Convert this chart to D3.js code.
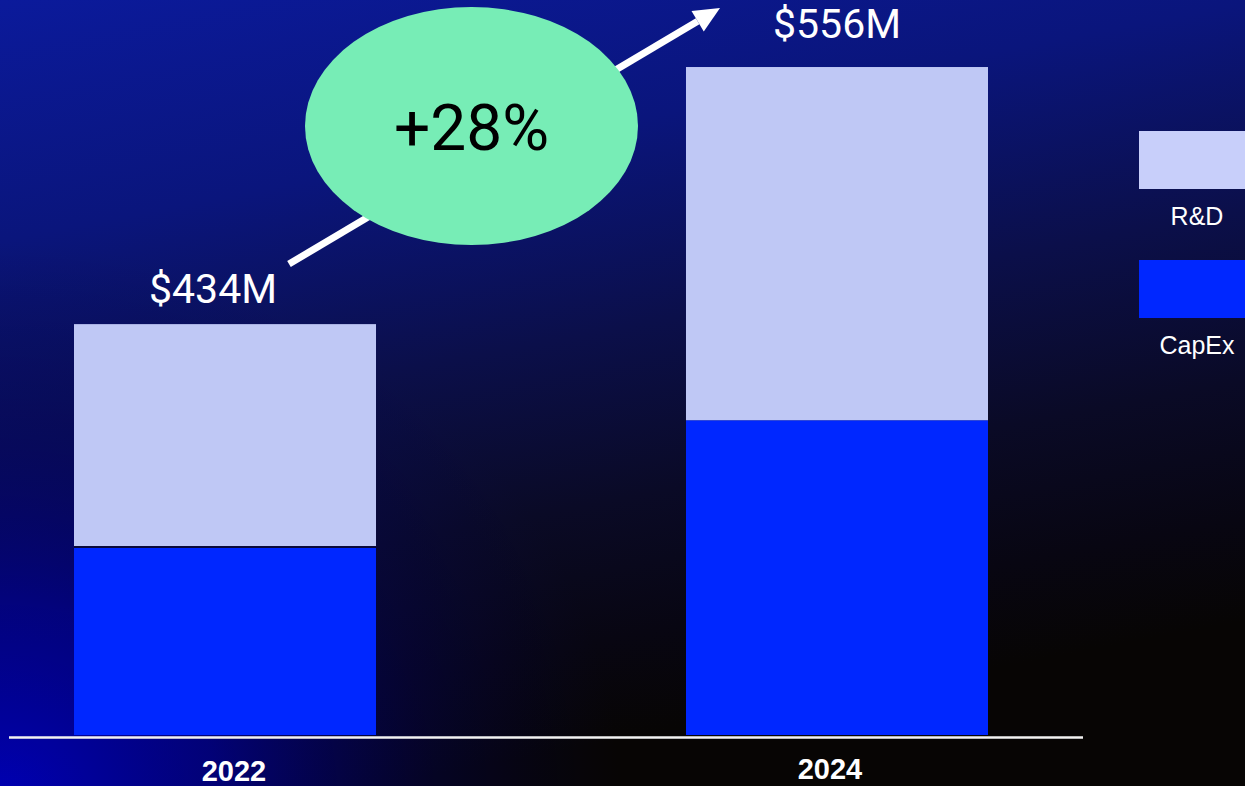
<!DOCTYPE html>
<html>
<head>
<meta charset="utf-8">
<script src="https://cdn.jsdelivr.net/npm/d3@7"></script>
<style>
  html, body { margin: 0; padding: 0; background: #000; }
  svg { display: block; }
</style>
</head>
<body>
<svg id="chart" width="1245" height="786"></svg>
<script>
// ---- data ----
const years = ["2022", "2024"];
const capex = [156, 262];      // bar segment values as drawn
const rnd = [186, 294];
const totalLabels = ["$434M", "$556M"];
const growthLabel = "+28%";
const seriesNames = ["R&D", "CapEx"];

// ---- layout ----
const W = 1245, H = 786;
const baseY = 735;
const svg = d3.select("#chart");
const defs = svg.append("defs");

// background
const lg = defs.append("linearGradient").attr("id", "bgv").attr("x1", 0).attr("y1", 0).attr("x2", 0.3).attr("y2", 1);
[["0%", "#0b1a9b"], ["28%", "#0a157c"], ["52%", "#0b0f4a"], ["72%", "#0a0a26"], ["88%", "#080612"], ["100%", "#070504"]]
  .forEach(([o, c]) => lg.append("stop").attr("offset", o).attr("stop-color", c));
svg.append("rect").attr("width", W).attr("height", H).attr("fill", "url(#bgv)");

const rg = defs.append("radialGradient").attr("id", "bgbl")
  .attr("gradientUnits", "userSpaceOnUse").attr("cx", 0).attr("cy", 800).attr("r", 620)
  .attr("gradientTransform", "translate(0,800) scale(1,0.9) translate(0,-800)");
[["0%", "#0000b4", 1], ["35%", "#00009a", 0.75], ["70%", "#000070", 0.3], ["100%", "#000050", 0]]
  .forEach(([o, c, a]) => rg.append("stop").attr("offset", o).attr("stop-color", c).attr("stop-opacity", a));
svg.append("rect").attr("width", W).attr("height", H).attr("fill", "url(#bgbl)");

// scales
const x = d3.scaleBand().domain(years).range([74, 988]).paddingInner(0.5065).paddingOuter(0);
const y = d3.scaleLinear().domain([0, 600]).range([baseY, baseY - 600 * 1.2014]);
const color = d3.scaleOrdinal().domain(seriesNames).range(["#bfc8f5", "#0027ff"]);

const rows = years.map((yr, i) => ({ year: yr, "CapEx": capex[i], "R&D": rnd[i] }));
const stack = d3.stack().keys(["CapEx", "R&D"])(rows);

svg.append("g").selectAll("g").data(stack).join("g")
  .attr("fill", d => color(d.key))
  .selectAll("rect").data(d => d).join("rect")
  .attr("x", d => x(d.data.year))
  .attr("width", x.bandwidth())
  .attr("y", d => y(d[1]))
  .attr("height", d => y(d[0]) - y(d[1]));

// thin separator on first bar
svg.append("line")
  .attr("x1", x(years[0])).attr("x2", x(years[0]) + x.bandwidth())
  .attr("y1", y(capex[0]) - 0.5).attr("y2", y(capex[0]) - 0.5)
  .attr("stroke", "#0a0a3a").attr("stroke-width", 2);

// baseline
svg.append("line").attr("x1", 9).attr("x2", 1083).attr("y1", 737.5).attr("y2", 737.5)
  .attr("stroke", "#f2f2f2").attr("stroke-width", 2.5);

// year labels
const yearDx = [9, -7];
const yearBase = [781, 779];
svg.append("g").selectAll("text").data(years).join("text")
  .attr("x", (d, i) => x(d) + x.bandwidth() / 2 + yearDx[i])
  .attr("y", (d, i) => yearBase[i])
  .attr("text-anchor", "middle")
  .attr("font-family", "'Liberation Sans', Arial, sans-serif")
  .attr("font-weight", "bold").attr("font-size", 29)
  .attr("fill", "#ffffff")
  .text(d => d);

// total labels
svg.append("g").selectAll("text").data(years).join("text")
  .attr("x", (d, i) => x(d) + x.bandwidth() / 2 - 12 * (1 - i))
  .attr("y", (d, i) => y(capex[i] + rnd[i]) - 21 - 8 * i)
  .attr("text-anchor", "middle")
  .attr("font-family", "Roboto, sans-serif")
  .attr("font-size", 41)
  .attr("fill", "#ffffff")
  .text((d, i) => totalLabels[i]);

// growth arrow
const ax1 = 289, ay1 = 264, ax2 = 720, ay2 = 8;
const ang = Math.atan2(ay2 - ay1, ax2 - ax1);
const headL = 26, headW = 12;
const bx = ax2 - headL * Math.cos(ang), by = ay2 - headL * Math.sin(ang);
svg.append("line").attr("x1", ax1).attr("y1", ay1).attr("x2", bx).attr("y2", by)
  .attr("stroke", "#ffffff").attr("stroke-width", 7);
svg.append("path")
  .attr("d", d3.line()([
    [ax2, ay2],
    [bx + headW * Math.sin(ang), by - headW * Math.cos(ang)],
    [bx - headW * Math.sin(ang), by + headW * Math.cos(ang)]
  ]) + "Z")
  .attr("fill", "#ffffff");

// growth bubble
svg.append("ellipse").attr("cx", 471.5).attr("cy", 126).attr("rx", 166.5).attr("ry", 119)
  .attr("fill", "#77edb6");
svg.append("text").attr("x", 471.5).attr("y", 150)
  .attr("text-anchor", "middle")
  .attr("font-family", "Roboto, sans-serif")
  .attr("font-size", 64)
  .attr("fill", "#000000")
  .text(growthLabel);

// legend
const legY = [131, 260];
const legColors = ["#c8cffa", "#0027ff"];
const leg = svg.append("g").selectAll("g").data(seriesNames).join("g");
leg.append("rect").attr("x", 1139).attr("y", (d, i) => legY[i]).attr("width", 120).attr("height", 58)
  .attr("fill", (d, i) => legColors[i]);
leg.append("text").attr("x", 1197).attr("y", (d, i) => legY[i] + 94)
  .attr("text-anchor", "middle")
  .attr("font-family", "'Liberation Sans', Arial, sans-serif")
  .attr("font-size", 25)
  .attr("fill", "#ffffff")
  .text(d => d);
</script>
</body>
</html>
